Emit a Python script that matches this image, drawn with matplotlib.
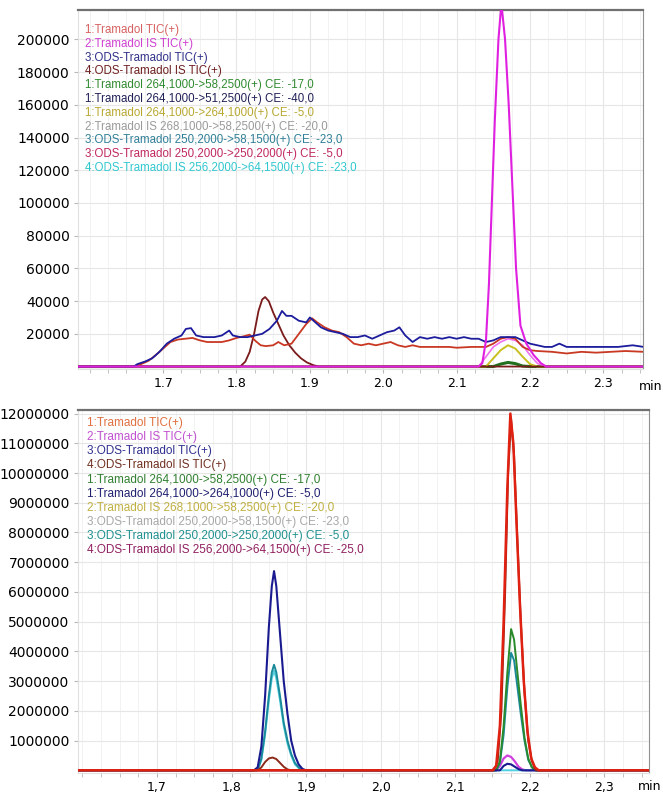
import matplotlib.pyplot as plt
from matplotlib.ticker import MultipleLocator

# ---- upper chromatogram (counts vs. acquisition time, min) ----
tic1 = [(1.585, 0), (1.66, 0), (1.67, 1500), (1.68, 3500), (1.69, 7000), (1.70, 11000),
        (1.71, 15000), (1.72, 16500), (1.73, 17000), (1.74, 17500), (1.75, 16000),
        (1.76, 15000), (1.77, 15000), (1.78, 15000), (1.79, 16000), (1.80, 17500),
        (1.81, 18500), (1.818, 19500), (1.825, 16000), (1.833, 13000), (1.84, 12500),
        (1.85, 13000), (1.857, 15000), (1.865, 13000), (1.875, 14000), (1.885, 20000),
        (1.895, 26000), (1.903, 29500), (1.91, 27000), (1.92, 24000), (1.93, 22000),
        (1.94, 21000), (1.95, 18000), (1.96, 14000), (1.97, 13000), (1.98, 14000),
        (1.99, 13000), (2.00, 14000), (2.01, 15000), (2.02, 13000), (2.03, 12000),
        (2.04, 13000), (2.05, 12000), (2.07, 12000), (2.09, 12000), (2.10, 11500),
        (2.12, 12000), (2.14, 12000), (2.15, 14000), (2.16, 17000), (2.17, 18000),
        (2.18, 17000), (2.19, 12000), (2.20, 10000), (2.21, 9500), (2.23, 9000),
        (2.25, 8000), (2.27, 9000), (2.29, 8500), (2.31, 9000), (2.33, 9500), (2.355, 9000)]
tic3 = [(1.585, 0), (1.66, 0), (1.665, 1500), (1.675, 3000), (1.685, 5000), (1.695, 9000),
        (1.705, 14000), (1.715, 17000), (1.725, 19000), (1.731, 23000), (1.738, 23500),
        (1.745, 19000), (1.755, 18000), (1.77, 18000), (1.78, 19000), (1.79, 22000),
        (1.795, 19000), (1.805, 18000), (1.815, 18000), (1.825, 19000), (1.835, 20000),
        (1.845, 23000), (1.855, 28000), (1.862, 34000), (1.868, 31000), (1.875, 31000),
        (1.885, 28000), (1.895, 27000), (1.90, 30000), (1.905, 28000), (1.915, 24000),
        (1.925, 22000), (1.935, 21000), (1.945, 20000), (1.955, 18000), (1.965, 18000),
        (1.975, 19000), (1.985, 17000), (1.995, 19000), (2.005, 21000), (2.015, 22000),
        (2.022, 24000), (2.03, 19000), (2.04, 15000), (2.05, 18000), (2.06, 17000),
        (2.07, 18000), (2.08, 17000), (2.09, 18000), (2.10, 17000), (2.11, 18000),
        (2.12, 17000), (2.13, 17000), (2.14, 15000), (2.15, 16000), (2.16, 18000),
        (2.17, 18000), (2.18, 18000), (2.19, 16000), (2.20, 14000), (2.21, 13000),
        (2.22, 12000), (2.23, 12000), (2.24, 14000), (2.25, 12000), (2.26, 12000),
        (2.28, 12000), (2.30, 12000), (2.32, 12000), (2.34, 13000), (2.355, 12000)]
tic4 = [(1.585, 0), (1.805, 0), (1.812, 3000), (1.818, 9000), (1.824, 20000), (1.83, 34000),
        (1.835, 41000), (1.839, 42500), (1.844, 40000), (1.85, 33000), (1.857, 26000),
        (1.864, 19000), (1.872, 13000), (1.88, 8500), (1.888, 5000), (1.896, 2500),
        (1.905, 800), (1.912, 0), (2.355, 0)]
tic2 = [(1.585, 0), (2.13, 0), (2.135, 2000), (2.14, 16000), (2.144, 50000), (2.148, 100000),
        (2.152, 150000), (2.157, 200000), (2.161, 222000), (2.166, 200000), (2.171, 160000),
        (2.176, 110000), (2.181, 60000), (2.187, 25000), (2.195, 14000), (2.205, 7000),
        (2.215, 2000), (2.222, 0), (2.355, 0)]
ods_250 = [(1.585, 0), (2.13, 0), (2.14, 6000), (2.15, 12000), (2.16, 15000), (2.17, 17000),
           (2.18, 16000), (2.19, 13000), (2.20, 7000), (2.21, 2000), (2.22, 0), (2.355, 0)]
tram_264 = [(1.585, 0), (2.14, 0), (2.15, 5000), (2.16, 10000), (2.17, 13000), (2.18, 11000),
            (2.19, 6000), (2.20, 1500), (2.21, 0), (2.355, 0)]
tram_58 = [(1.585, 0), (2.15, 0), (2.16, 1500), (2.17, 2500), (2.18, 1800), (2.19, 300),
           (2.20, 0), (2.355, 0)]

top_labels = ["1:Tramadol TIC(+)",
              "2:Tramadol IS TIC(+)",
              "3:ODS-Tramadol TIC(+)",
              "4:ODS-Tramadol IS TIC(+)",
              "1:Tramadol 264,1000->58,2500(+) CE: -17,0",
              "1:Tramadol 264,1000->51,2500(+) CE: -40,0",
              "1:Tramadol 264,1000->264,1000(+) CE: -5,0",
              "2:Tramadol IS 268,1000->58,2500(+) CE: -20,0",
              "3:ODS-Tramadol 250,2000->58,1500(+) CE: -23,0",
              "3:ODS-Tramadol 250,2000->250,2000(+) CE: -5,0",
              "4:ODS-Tramadol IS 256,2000->64,1500(+) CE: -23,0"]
top_colors = ["#d86060", "#d040d0", "#303088", "#702020", "#308a30", "#202058",
              "#b8a830", "#9a9a9a", "#2f7f98", "#c02860", "#30c8d0"]

# ---- lower chromatogram ----
b_red = [(1.594, 0), (2.15, 0), (2.155, 150000), (2.16, 1500000), (2.165, 5000000),
         (2.17, 9500000), (2.174, 12000000), (2.178, 11000000), (2.182, 8500000),
         (2.187, 5500000), (2.192, 3000000), (2.197, 1300000), (2.202, 400000),
         (2.207, 100000), (2.212, 0), (2.36, 0)]
b_brown = [(1.594, 0), (1.835, 0), (1.84, 100000), (1.845, 280000), (1.85, 400000),
           (1.855, 430000), (1.86, 380000), (1.865, 250000), (1.87, 120000), (1.875, 30000),
           (1.88, 0), (2.152, 0), (2.157, 300000), (2.162, 2000000), (2.167, 6000000),
           (2.171, 10000000), (2.175, 11800000), (2.179, 10600000), (2.183, 8000000),
           (2.188, 5000000), (2.193, 2600000), (2.198, 1000000), (2.203, 300000),
           (2.208, 0), (2.36, 0)]
b_navy = [(1.594, 0), (1.83, 0), (1.835, 100000), (1.84, 800000), (1.845, 2500000),
          (1.85, 4800000), (1.854, 6200000), (1.857, 6700000), (1.86, 6200000),
          (1.865, 4600000), (1.87, 3000000), (1.875, 1900000), (1.88, 1000000),
          (1.885, 500000), (1.89, 200000), (1.895, 50000), (1.90, 0), (2.16, 0),
          (2.165, 150000), (2.17, 220000), (2.175, 200000), (2.18, 120000), (2.185, 40000),
          (2.19, 0), (2.36, 0)]
b_teal = [(1.594, 0), (1.835, 0), (1.84, 400000), (1.845, 1300000), (1.85, 2500000),
          (1.854, 3300000), (1.857, 3550000), (1.86, 3300000), (1.865, 2500000),
          (1.87, 1600000), (1.875, 1000000), (1.88, 550000), (1.885, 250000),
          (1.89, 100000), (1.895, 0), (2.155, 0), (2.16, 250000), (2.165, 1200000),
          (2.17, 2800000), (2.175, 3950000), (2.179, 3700000), (2.183, 2900000),
          (2.188, 1900000), (2.193, 1000000), (2.198, 350000), (2.203, 100000),
          (2.208, 0), (2.36, 0)]
b_cyan = [(1.594, 0), (1.835, 0), (1.84, 350000), (1.845, 1200000), (1.85, 2350000),
          (1.854, 3100000), (1.857, 3350000), (1.86, 3100000), (1.865, 2350000),
          (1.87, 1500000), (1.875, 900000), (1.88, 500000), (1.885, 200000),
          (1.89, 80000), (1.895, 0), (2.36, 0)]
b_green = [(1.594, 0), (2.155, 0), (2.16, 300000), (2.165, 1500000), (2.17, 3300000),
           (2.175, 4750000), (2.179, 4400000), (2.183, 3400000), (2.188, 2200000),
           (2.193, 1100000), (2.198, 400000), (2.203, 100000), (2.208, 0), (2.36, 0)]
b_magenta = [(1.594, 0), (2.155, 0), (2.16, 150000), (2.165, 400000), (2.17, 500000),
             (2.175, 450000), (2.18, 300000), (2.185, 120000), (2.19, 30000), (2.195, 0),
             (2.36, 0)]

bottom_labels = ["1:Tramadol TIC(+)",
                 "2:Tramadol IS TIC(+)",
                 "3:ODS-Tramadol TIC(+)",
                 "4:ODS-Tramadol IS TIC(+)",
                 "1:Tramadol 264,1000->58,2500(+) CE: -17,0",
                 "1:Tramadol 264,1000->264,1000(+) CE: -5,0",
                 "2:Tramadol IS 268,1000->58,2500(+) CE: -20,0",
                 "3:ODS-Tramadol 250,2000->58,1500(+) CE: -23,0",
                 "3:ODS-Tramadol 250,2000->250,2000(+) CE: -5,0",
                 "4:ODS-Tramadol IS 256,2000->64,1500(+) CE: -25,0"]
bottom_colors = ["#e07040", "#c050d0", "#303090", "#703020", "#308030", "#202070",
                 "#c0b040", "#a8a8a8", "#209090", "#902060"]

x_ticks = [1.7, 1.8, 1.9, 2.0, 2.1, 2.2, 2.3]


def plot_trace(ax, pts, color, lw=1.3, z=2):
    t, y = zip(*pts)
    ax.plot(t, y, color=color, lw=lw, zorder=z, solid_joinstyle='round')


def style_axes(ax, sep):
    for side in ['left', 'bottom']:
        ax.spines[side].set_color('#e0e0e0')
    ax.spines['top'].set_color('#707070')
    ax.spines['top'].set_linewidth(1.6)
    ax.spines['right'].set_color('#909090')
    ax.set_xticks(x_ticks)
    ax.set_xticklabels([f"{v:.1f}".replace('.', sep) for v in x_ticks], fontsize=9)
    ax.xaxis.set_minor_locator(MultipleLocator(0.025))
    ax.grid(True, which='major', color='#e6e6e6', lw=0.8)
    ax.grid(True, which='minor', axis='x', color='#f2f2f2', lw=0.7)
    ax.tick_params(axis='both', which='both', length=3, color='#b8b8b8', pad=3)
    ax.tick_params(axis='y', labelsize=10)
    ax.set_axisbelow(True)


fig = plt.figure(figsize=(6.63, 7.98), dpi=100)
plt.rcParams['font.family'] = ['DejaVu Sans']

# upper panel
ax1 = fig.add_axes([78 / 663, 1 - 369 / 798, 565 / 663, 359 / 798])
style_axes(ax1, '.')
ax1.set_xlim(1.584, 2.354)
ax1.set_ylim(-1500, 218000)
ax1.set_yticks(list(range(20000, 200001, 20000)))
ax1.set_yticklabels([str(v) for v in range(20000, 200001, 20000)])

plot_trace(ax1, tram_58, '#207020', lw=2.2, z=3)
plot_trace(ax1, tram_264, '#c8c020', lw=1.4, z=3)
plot_trace(ax1, ods_250, '#f070f0', lw=1.2, z=3)
plot_trace(ax1, tic4, '#7a1a1a', lw=1.3, z=4)
plot_trace(ax1, tic1, '#c83822', lw=1.3, z=4)
plot_trace(ax1, tic3, '#1c1c9c', lw=1.3, z=5)
plot_trace(ax1, tic2, '#e020e0', lw=1.5, z=6)

for i, (lab, col) in enumerate(zip(top_labels, top_colors)):
    ax1.text(0.012, 0.944 - i * 0.0384, lab, transform=ax1.transAxes, color=col,
             fontsize=8.3, family='Liberation Sans', va='center', ha='left', zorder=8)
ax1.text(0.993, -0.05, 'min', transform=ax1.transAxes, fontsize=9,
         ha='left', va='center')

# lower panel
ax2 = fig.add_axes([78 / 663, 1 - 773 / 798, 571 / 663, 363 / 798])
style_axes(ax2, ',')
ax2.set_xlim(1.594, 2.36)
ax2.set_ylim(-90000, 12120000)
y2 = list(range(1000000, 12000001, 1000000))
ax2.set_yticks(y2)
ax2.set_yticklabels([str(v) for v in y2])

plot_trace(ax2, b_magenta, '#d040e0', lw=1.6, z=3)
plot_trace(ax2, b_cyan, '#50d0e0', lw=1.4, z=3)
plot_trace(ax2, b_teal, '#1a8a9a', lw=1.4, z=4)
plot_trace(ax2, b_green, '#2a8a2a', lw=1.4, z=4)
plot_trace(ax2, b_navy, '#1a1a90', lw=1.5, z=5)
plot_trace(ax2, b_brown, '#8b2a1a', lw=1.4, z=5)
plot_trace(ax2, b_red, '#e02010', lw=1.8, z=6)

for i, (lab, col) in enumerate(zip(bottom_labels, bottom_colors)):
    ax2.text(0.016, 0.964 - i * 0.0389, lab, transform=ax2.transAxes, color=col,
             fontsize=8.5, family='Liberation Sans', va='center', ha='left', zorder=8)
fig.text(0.998, 1 - 786 / 798, 'min', fontsize=9, ha='right', va='center')

fig.savefig('out.png', dpi=100)
